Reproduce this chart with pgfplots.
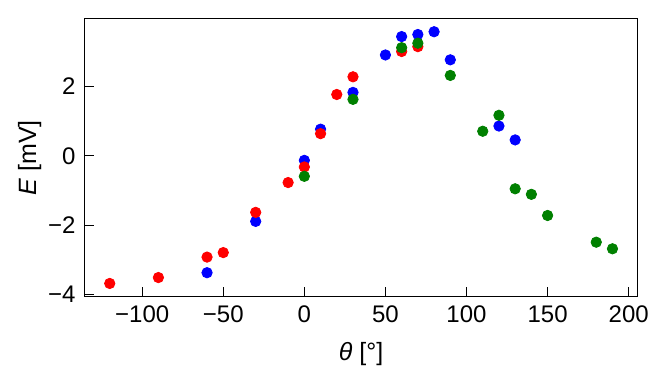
\documentclass[border=0pt]{standalone}
\usepackage{pgfplots}
\pgfplotsset{compat=1.18}
\usepackage{fontspec}
\setmainfont{Liberation Sans}
\definecolor{mplgreen}{HTML}{008000}
\begin{document}
\begin{tikzpicture}
\useasboundingbox (-42.3pt,-38.2pt) rectangle (286.7pt,148.4pt);
\begin{axis}[
  at={(0,0)}, anchor=south west,
  scale only axis, width=276.5pt, height=139.2pt,
  xmin=-135.5, xmax=205.5, ymin=-4.065, ymax=3.965,
  axis line style={line width=0.6pt},
  tick style={black, line width=0.6pt},
  tick align=inside, major tick length=4.7pt,
  xtick pos=left, ytick pos=left,
  xtick={-100,-50,0,50,100,150,200},
  xticklabels={−100,−50,0,50,100,150,200},
  ytick={-4,-2,0,2},
  yticklabels={−4,−2,0,2},
  ticklabel style={font=\fontsize{12}{14}\selectfont},
  xticklabel style={yshift=-1pt},
  yticklabel style={xshift=-1pt},
  xlabel={{\itshape θ} [°]},
  ylabel={{\itshape E} [mV]},
  label style={font=\fontsize{12.5}{15}\selectfont},
  xlabel style={at={(axis description cs:0.5,0)}, anchor=center, yshift=-28.7pt},
  ylabel style={at={(axis description cs:0,0.5)}, anchor=center, yshift=27.5pt},
]
\addplot[only marks, mark=*, mark size=2.6pt, color=blue, mark options={fill=blue, draw=blue}] coordinates {
(-60,-3.37) (-30,-1.89) (0,-0.13) (10,0.77) (30,1.83) (50,2.91) (60,3.44) (70,3.50) (80,3.58) (90,2.77) (120,0.86) (130,0.46)
};
\addplot[only marks, mark=*, mark size=2.6pt, color=red, mark options={fill=red, draw=red}] coordinates {
(-120,-3.68) (-90,-3.51) (-60,-2.92) (-50,-2.79) (-30,-1.63) (-10,-0.77) (0,-0.32) (10,0.64) (20,1.77) (30,2.28) (60,3.01) (70,3.15)
};
\addplot[only marks, mark=*, mark size=2.6pt, color=mplgreen, mark options={fill=mplgreen, draw=mplgreen}] coordinates {
(0,-0.59) (30,1.63) (60,3.12) (70,3.25) (90,2.32) (110,0.71) (120,1.17) (130,-0.95) (140,-1.11) (150,-1.72) (180,-2.49) (190,-2.68)
};
\end{axis}
\end{tikzpicture}
\end{document}
